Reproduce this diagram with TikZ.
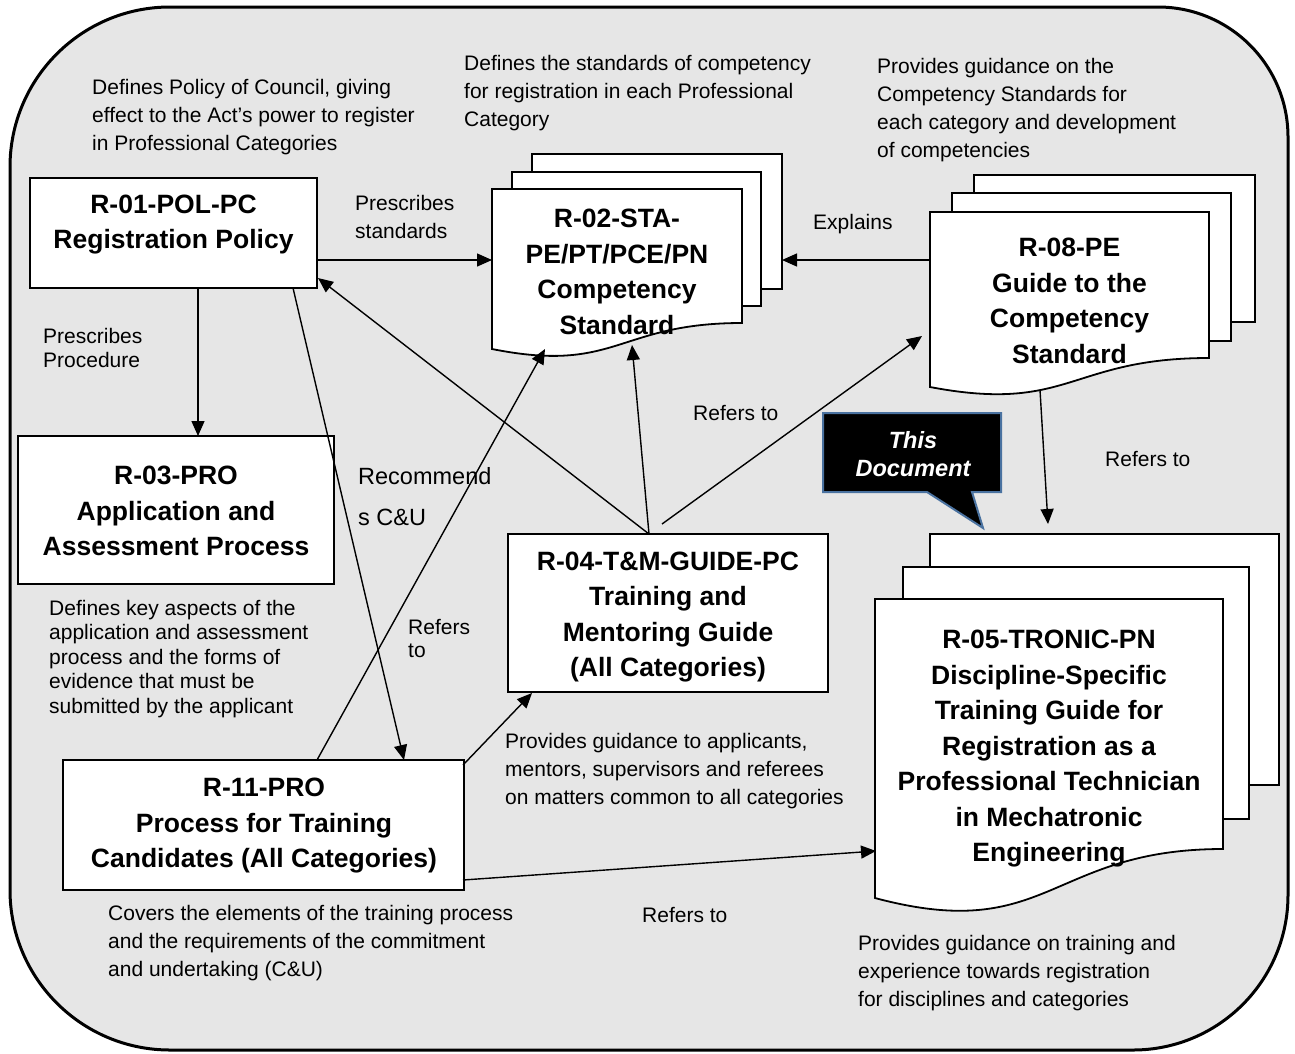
\documentclass[tikz,border=0pt]{standalone}
\usepackage{fontspec}
\setmainfont{Liberation Sans}
\usetikzlibrary{arrows.meta}
\definecolor{bgray}{RGB}{230,230,230}
\definecolor{callblue}{RGB}{74,114,160}
\begin{document}
\begin{tikzpicture}[x=1pt,y=-1pt,
  arr/.style={line width=1.4pt,-{Triangle[length=15pt,width=13pt]}},
  box/.style={draw,fill=white,line width=1.2pt,anchor=north west,inner sep=0,outer sep=0},
  ghost/.style={anchor=north west,inner sep=0,outer sep=0},
  sheet/.style={draw,fill=white,line width=1.8pt,line join=miter},
  bold/.style={font=\fontsize{26.5}{35.5}\selectfont\bfseries,align=center,inner sep=0},
  small/.style={font=\fontsize{21}{28}\selectfont,align=left,anchor=north west,inner sep=0},
  smalltight/.style={font=\fontsize{21}{24.5}\selectfont,align=left,anchor=north west,inner sep=0},
]
\useasboundingbox (0,0) rectangle (1295,1053);
\fill[white] (0,0) rectangle (1295,1053);
\draw[line width=3pt,fill=bgray]
  (10,167) .. controls (10,78.6) and (81.6,7) .. (170,7)
  -- (1158,7) .. controls (1229.8,7) and (1288,65.2) .. (1288,137)
  -- (1288,895) .. controls (1288,980.6) and (1218.6,1050) .. (1133,1050)
  -- (170,1050) .. controls (81.6,1050) and (10,978.4) .. (10,890) -- cycle;

% ---------- plain boxes ----------
\node[box,minimum width=287pt,minimum height=110pt] (r01) at (30,178) {};
\node[box,minimum width=316pt,minimum height=148pt] (r03) at (18,436) {};
\node[box,minimum width=401pt,minimum height=130pt] (r11) at (63,760) {};
\node[box,line width=1.8pt,minimum width=320pt,minimum height=158pt] (r04) at (508,534) {};

% ---------- document stacks ----------
% R-02
\draw[sheet] (532,154) rectangle (782,289);
\draw[sheet] (512,172) rectangle (761,306);
\draw[sheet] (492,189) -- (742,189) -- (742,323) .. controls (617,323) and (617,374) .. (492,349) -- cycle;
\node[ghost,minimum width=290pt,minimum height=195pt] (r02) at (492,154) {};
% R-08
\draw[sheet] (974,175) rectangle (1255,322);
\draw[sheet] (952,193) rectangle (1231,341);
\draw[sheet] (930,212) -- (1209,212) -- (1209,358) .. controls (1069.5,358) and (1069.5,413.6) .. (930,387) -- cycle;
\node[ghost,minimum width=325pt,minimum height=218pt] (r08) at (930,175) {};
% R-05
\draw[sheet] (930,534) rectangle (1279,785);
\draw[sheet] (903,567) rectangle (1249,819);
\draw[sheet] (875,599) -- (1223,599) -- (1223,849) .. controls (1049,849) and (1049,944.5) .. (875,898) -- cycle;
\node[ghost,minimum width=404pt,minimum height=378pt] (r05) at (875,534) {};

% ---------- callout ----------
\draw[fill=black,draw=callblue,line width=2pt,line join=miter]
  (823,413) -- (1001,413) -- (1001,492) -- (972,492) -- (983,528) -- (927,492) -- (823,492) -- cycle;
\node[font=\fontsize{23.5}{28}\selectfont\bfseries\itshape,text=white,align=center,inner sep=0] (this) at (913,454) {This\\Document};

% ---------- connectors ----------
\coordinate (h260) at (0,260);
\coordinate (v198) at (198,0);
\draw[arr] (r01.east |- h260) -- (r02.west |- h260);
\draw[arr] (r08.west |- h260) -- (r02.east |- h260);
\draw[arr] (r01.south -| v198) -- (r03.north -| v198);
\draw[arr] ([xshift=-24pt]r01.south east) -- ([xshift=140.5pt]r11.north);
\draw[arr] ([xshift=53.5pt]r11.north) -- ([xshift=-92pt]r02.south);
\draw[arr] ([xshift=-19pt]r04.north) -- ([xshift=1pt,yshift=-45pt]r01.east);
\draw[arr] ([xshift=-19pt]r04.north) -- ([xshift=-5pt,yshift=4pt]r02.south);
\draw[arr] ([xshift=-6pt,yshift=10pt]r04.north) -- ([xshift=-8pt,yshift=-52pt]r08.west);
\draw[arr] ([xshift=-52.5pt,yshift=3pt]r08.south) -- ([xshift=-29pt,yshift=10pt]r05.north);
\draw[arr] ([xshift=-1pt,yshift=-5pt]r11.north east) -- ([xshift=24pt,yshift=-1pt]r04.south west);
\draw[arr] ([xshift=-1pt,yshift=10pt]r11.south east) -- ([xshift=1pt,yshift=-128pt]r05.west);

% ---------- node texts ----------
\node[bold] (t01) at (173.5,224.5) {R-01-POL-PC\\Registration Policy};
\node[bold] (t03) at (176,511) {R-03-PRO\\Application and\\Assessment Process};
\node[bold] (t11) at (264,826) {R-11-PRO\\Process for Training\\Candidates (All Categories)};
\node[bold] (t04) at (668,617) {R-04-T\&M-GUIDE-PC\\Training and\\Mentoring Guide\\(All Categories)};
\node[bold] (t02) at (617,272) {R-02-STA-\\PE/PT/PCE/PN\\Competency\\Standard};
\node[bold] (t08) at (1069.5,301) {R-08-PE\\Guide to the\\Competency\\Standard};
\node[bold] (t05) at (1049,749) {R-05-TRONIC-PN\\Discipline-Specific\\Training Guide for\\Registration as a\\Professional Technician\\in Mechatronic\\Engineering};

% ---------- annotations ----------
\node[small] (a1) at (92,79) {Defines Policy of Council, giving\\effect to the Act’s power to register\\in Professional Categories};
\node[small] (a2) at (464,55) {Defines the standards of competency\\for registration in each Professional\\Category};
\node[small] (a3) at (877,58) {Provides guidance on the\\Competency Standards for\\each category and development\\of competencies};
\node[smalltight] (a4) at (49,600) {Defines key aspects of the\\application and assessment\\process and the forms of\\evidence that must be\\submitted by the applicant};
\node[small] (a5) at (505,733) {Provides guidance to applicants,\\mentors, supervisors and referees\\on matters common to all categories};
\node[small] (a6) at (108,905) {Covers the elements of the training process\\and the requirements of the commitment\\and undertaking (C\&U)};
\node[small] (a7) at (858,935) {Provides guidance on training and\\experience towards registration\\for disciplines and categories};

% ---------- edge labels ----------
\node[small] (l1) at (355,195) {Prescribes\\standards};
\node[small] (l2) at (813,214) {Explains};
\node[smalltight] (l3) at (43,328) {Prescribes\\Procedure};
\node[font=\fontsize{23.5}{41}\selectfont,align=left,anchor=north west,inner sep=0] (l4) at (358,467) {Recommend\\s C\&U};
\node[font=\fontsize{21}{23}\selectfont,align=left,anchor=north west,inner sep=0] (l5) at (408,619) {Refers\\to};
\node[small] (l6) at (693,405) {Refers to};
\node[small] (l7) at (1105,451) {Refers to};
\node[small] (l8) at (642,907) {Refers to};
\end{tikzpicture}
\end{document}
